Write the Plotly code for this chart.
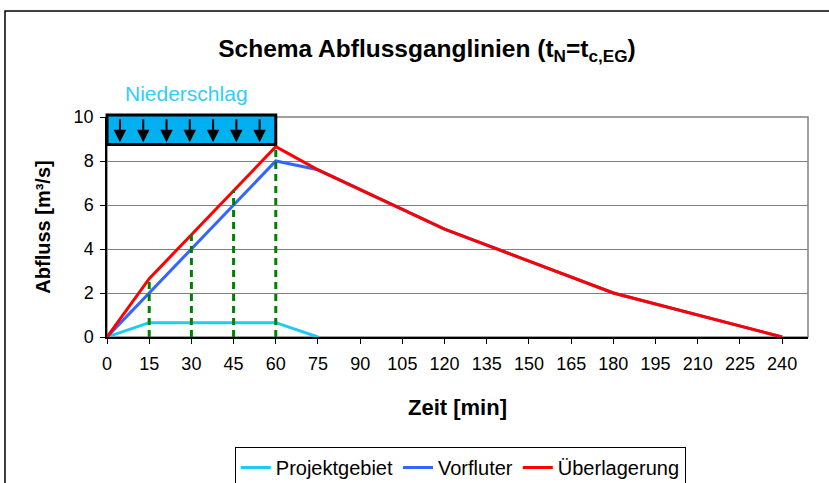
import plotly.graph_objects as go

# --- data -------------------------------------------------------------
x_ticks = [0, 15, 30, 45, 60, 75, 90, 105, 120, 135, 150, 165, 180, 195, 210, 225, 240]

projekt_t = [0, 15, 60, 75]
projekt_q = [0, 0.65, 0.65, 0]

vorfluter_t = [0, 60, 75, 120, 180, 240]
vorfluter_q = [0, 8.0, 7.6, 4.9, 2.0, 0]

ueber_t = [0, 15, 30, 45, 60, 75, 120, 180, 240]
ueber_q = [0, 2.65, 4.65, 6.65, 8.65, 7.6, 4.9, 2.0, 0]

# green helper verticals (time steps up to t_N)
steps_t = [15, 30, 45, 60]
steps_q = [2.65, 4.65, 6.65, 8.65]

rain_start, rain_end = 0, 60
n_arrows = 7

# --- style ------------------------------------------------------------
_FONT = 'Liberation Sans, Arial, sans-serif'
_X_MAX = 249.2
_Y_MAX = 10

C_PROJ = '#1ECBF5'
C_VORF = '#3366FF'
C_UEB = '#FF0000'
C_GREEN = '#008000'
C_RAIN = '#00B0F0'

fig = go.Figure()

fig.add_trace(go.Scatter(
    x=projekt_t, y=projekt_q, mode='lines',
    line={'color': C_PROJ, 'width': 3}, name='Projektgebiet',
))
fig.add_trace(go.Scatter(
    x=vorfluter_t, y=vorfluter_q, mode='lines',
    line={'color': C_VORF, 'width': 3}, name='Vorfluter',
))
fig.add_trace(go.Scatter(
    x=ueber_t, y=ueber_q, mode='lines',
    line={'color': C_UEB, 'width': 3}, name='Überlagerung',
))

vx, vy = [], []
for t, q in zip(steps_t, steps_q):
    vx += [t, t, None]
    vy += [0, q, None]
fig.add_trace(go.Scatter(
    x=vx, y=vy, mode='lines', showlegend=False, hoverinfo='skip',
    line={'color': C_GREEN, 'width': 3, 'dash': '7px,5px'},
))

# precipitation block (paper coords so it can poke above the plot area)
fig.add_shape(
    type='rect', xref='paper', yref='paper',
    x0=rain_start / _X_MAX, x1=rain_end / _X_MAX, y0=8.75 / _Y_MAX, y1=1.009,
    fillcolor=C_RAIN, line={'color': 'black', 'width': 3}, layer='above',
)
step = (rain_end - rain_start) / (n_arrows + 0.25)
annotations = []
for i in range(n_arrows):
    ax_ = rain_start + 4.6 + i * step
    annotations.append(dict(
        x=ax_, y=8.85, ax=ax_, ay=9.97, xref='x', yref='y', axref='x', ayref='y',
        showarrow=True, arrowhead=2, arrowsize=1.25, arrowwidth=2,
        arrowcolor='black', text='', standoff=0,
    ))
annotations.append(dict(
    text='Niederschlag', x=28.3, xref='x', y=1.17, yref='paper',
    showarrow=False, font={'size': 21, 'color': '#33CCFF', 'family': _FONT},
))

# outer chart border
fig.add_shape(
    type='rect', xref='paper', yref='paper',
    x0=-0.1455, x1=1.06, y0=-0.72, y1=1.4818,
    line={'color': 'black', 'width': 1.5}, fillcolor='rgba(0,0,0,0)', layer='below',
)
# plot-area border
fig.add_shape(
    type='rect', xref='paper', yref='paper', x0=0, x1=1, y0=0, y1=1,
    line={'color': '#808080', 'width': 1.5}, layer='below',
)

fig.update_layout(
    width=829, height=483,
    paper_bgcolor='white', plot_bgcolor='white',
    margin=dict(l=107, r=21, t=117, b=146, autoexpand=False),
    font={'family': _FONT, 'size': 18, 'color': 'black'},
    title=dict(
        text='<b>Schema Abflussganglinien (t<sub>N</sub>=t<sub>c,EG</sub>)</b>',
        x=0.515, xanchor='center', xref='container',
        y=1 - 48 / 483, yanchor='middle', yref='container',
        font={'size': 24.5, 'family': _FONT},
    ),
    xaxis=dict(
        range=[0, _X_MAX], tickvals=x_ticks, ticktext=[str(v) for v in x_ticks],
        showgrid=False, zeroline=False, automargin=False,
        showline=True, linecolor='black', linewidth=1.5,
        ticks='outside', ticklen=5, tickcolor='black', ticklabelstandoff=5,
        title=dict(text='<b>Zeit [min]</b>', font={'size': 22}, standoff=26),
    ),
    yaxis=dict(
        range=[0, _Y_MAX], dtick=2, tick0=0, automargin=False,
        showgrid=True, gridcolor='#808080', gridwidth=1, zeroline=False,
        showline=True, linecolor='black', linewidth=1.5,
        ticks='outside', ticklen=5, tickcolor='black', ticklabelstandoff=3,
        title=dict(text='<b>Abfluss [m³/s]</b>', font={'size': 20}, standoff=18),
    ),
    showlegend=True,
    legend=dict(
        orientation='h', x=0.504, xanchor='center', y=-0.5, yanchor='top',
        bordercolor='black', borderwidth=1, bgcolor='white',
        font={'size': 20, 'family': _FONT},
    ),
    annotations=annotations,
)

fig.write_html('out.html', config={'displayModeBar': False},
               post_script="document.body.style.margin='0';")
